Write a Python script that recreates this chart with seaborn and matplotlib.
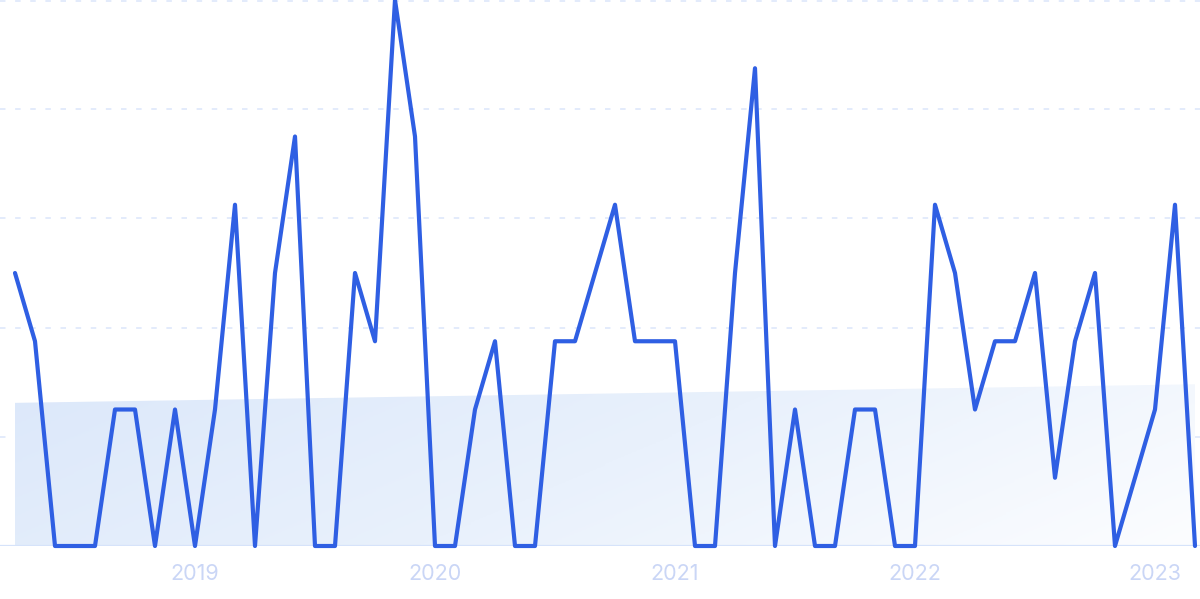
import numpy as np
import pandas as pd
import matplotlib
matplotlib.use("Agg")
import matplotlib.pyplot as plt
from matplotlib.colors import LinearSegmentedColormap
import seaborn as sns

# ---- data ----
start_year = 2018
start_month = 4
values = [4, 3, 0, 0, 0, 2, 2, 0, 2, 0, 2, 5, 0, 4, 6, 0, 0, 4, 3, 8,
          6, 0, 0, 2, 3, 0, 0, 3, 3, 4, 5, 3, 3, 3, 0, 0, 4, 7, 0, 2,
          0, 0, 2, 2, 0, 0, 5, 4, 2, 3, 3, 4, 1, 3, 4, 0, 1, 2, 5, 0]
tick_labels = ["2019", "2020", "2021", "2022", "2023"]

dates = pd.date_range(f"{start_year}-{start_month:02d}-01", periods=len(values), freq="MS")
df = pd.DataFrame({"idx": np.arange(len(values)), "value": values, "date": dates})

sns.set_style("white")
plt.rcParams["font.family"] = ["Inter", "DejaVu Sans"]

W, H, DPI = 1200, 599, 100
fig = plt.figure(figsize=(W / DPI, H / DPI), dpi=DPI)
ax = fig.add_axes([0, 53 / H, 1, 546 / H])
ax.set_xlim(-0.75, len(values) - 0.75)
ax.set_ylim(0, 8)

# trend area with gradient
coef = np.polyfit(df["idx"], df["value"], 1)
trend = np.polyval(coef, df["idx"])
poly = ax.fill_between(df["idx"], 0, trend, color="none", lw=0, zorder=1)
cmap = LinearSegmentedColormap.from_list("g", ["#dce8fa", "#e9f1fc", "#fcfdff"])
gx, gy = np.meshgrid(np.linspace(0, 1, 300), np.linspace(0, 1, 100))
grad = 0.8 * gx + 0.25 * gy
grad = grad / grad.max()
img = ax.imshow(grad, extent=[df["idx"].min(), df["idx"].max(), 0, trend.max()],
                origin="upper", aspect="auto", cmap=cmap, zorder=1)
img.set_clip_path(poly.get_paths()[0], transform=ax.transData)

# grid
for g in [1.6, 3.2, 4.8, 6.4, 7.98]:
    ax.axhline(g, color="#dbe5fb", lw=1.1, linestyle=(0, (3.6, 6.3)), zorder=0)
ax.axhline(0, color="#d6e3fa", lw=1.6, zorder=2)

sns.lineplot(data=df, x="idx", y="value", ax=ax, color="#2f5fe3", lw=3.0, zorder=3)
ln = ax.get_lines()[-1]
ln.set_solid_joinstyle("round")
ln.set_solid_capstyle("round")
ln.set_clip_on(False)

jan_idx = df.index[df["date"].dt.month == 1].tolist()
ax.set_xticks(jan_idx)
ax.set_xticklabels(tick_labels, color="#cad6f6", fontsize=15.5)
ax.tick_params(axis="x", length=0, pad=13)
ax.set_yticks([])
ax.set_xlabel("")
ax.set_ylabel("")
for s in ax.spines.values():
    s.set_visible(False)
ax.patch.set_alpha(0)

fig.savefig("out.png", dpi=DPI)
